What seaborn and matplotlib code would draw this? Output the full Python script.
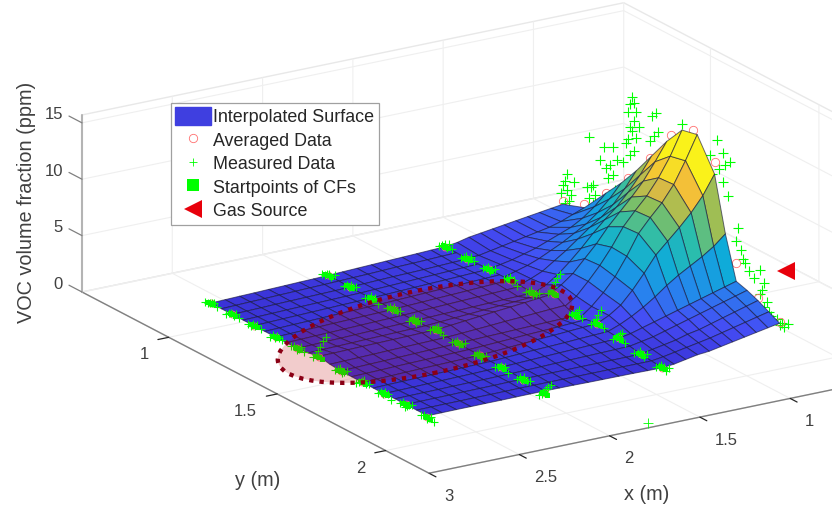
import numpy as np
import matplotlib
matplotlib.use("Agg")
import matplotlib.pyplot as plt
import seaborn as sns
from matplotlib.lines import Line2D
from matplotlib.patches import Ellipse, Patch
from matplotlib.transforms import IdentityTransform
from mpl_toolkits.mplot3d import proj3d

# surface, flat part between the three front CF lines
x_flat = [2.6, 2.52, 2.44, 2.36, 2.28, 2.19, 2.11, 2.03, 1.95, 1.87, 1.79, 1.71, 1.63, 1.54, 1.46, 1.38, 1.3]
y_flat = [.86, .91, .96, 1.01, 1.06, 1.11, 1.16, 1.21, 1.26, 1.31, 1.36, 1.41, 1.46, 1.51, 1.56, 1.61, 1.66, 1.71, 1.76, 1.81, 1.86]
z_flat = [
    [.30, .30, .30, .30, .30, .30, .30, .30, .30, .40, .60, .40, .30, .30, .30, .30, .30, .35, .35, .35, .35],
    [.34, .34, .33, .33, .34, .34, .34, .34, .34, .43, .62, .43, .34, .33, .33, .33, .33, .36, .36, .36, .36],
    [.38, .38, .36, .36, .38, .38, .38, .38, .38, .46, .65, .46, .38, .36, .36, .35, .35, .37, .37, .37, .37],
    [.41, .41, .40, .40, .41, .41, .41, .41, .41, .49, .68, .49, .41, .40, .40, .38, .38, .38, .38, .37, .37],
    [.45, .45, .43, .43, .45, .45, .45, .45, .45, .53, .70, .53, .45, .43, .43, .40, .40, .40, .40, .38, .38],
    [.49, .49, .46, .46, .49, .49, .49, .49, .49, .56, .73, .56, .49, .46, .46, .43, .43, .41, .41, .38, .38],
    [.53, .53, .49, .49, .53, .53, .53, .53, .53, .59, .75, .59, .53, .49, .49, .45, .45, .42, .42, .39, .39],
    [.56, .56, .52, .52, .56, .56, .56, .56, .56, .62, .78, .62, .56, .52, .52, .48, .48, .44, .44, .40, .40],
    [.60, .60, .55, .55, .60, .60, .60, .60, .60, .65, .80, .65, .60, .55, .55, .50, .50, .45, .45, .40, .40],
    [.65, .64, .60, .60, .65, .65, .66, .65, .64, .73, .93, .73, .64, .61, .63, .57, .55, .48, .46, .40, .39],
    [.70, .68, .65, .65, .70, .70, .71, .70, .68, .81, 1.06, .81, .68, .67, .71, .63, .60, .51, .47, .40, .38],
    [.75, .73, .69, .70, .75, .75, .77, .75, .71, .89, 1.19, .89, .71, .73, .79, .70, .65, .54, .47, .40, .36],
    [.80, .78, .72, .75, .80, .80, .82, .80, .75, .98, 1.32, .98, .75, .80, .88, .75, .70, .58, .48, .40, .35],
    [.85, .82, .76, .80, .85, .85, .88, .85, .79, 1.06, 1.45, 1.06, .79, .86, .96, .81, .75, .61, .48, .40, .34],
    [.90, .86, .81, .85, .90, .90, .94, .90, .83, 1.14, 1.58, 1.14, .83, .92, 1.04, .88, .80, .64, .49, .40, .33],
    [.95, .91, .86, .90, .95, .95, 1.0, .95, .86, 1.22, 1.72, 1.22, .86, .99, 1.12, .94, .85, .67, .49, .40, .31],
    [1.0, .95, .90, .95, 1.0, 1.0, 1.05, 1.0, .90, 1.30, 1.85, 1.30, .90, 1.05, 1.20, 1.0, .90, .70, .50, .40, .30],
]

# coarser mesh around the peak, one list per y station from x=.65 to x=1.3
x_peak = [.65, .715, .78, .845, .91, .975, 1.04, 1.105, 1.17, 1.235, 1.3]
y_peak = [.86, .96, 1.06, 1.13, 1.2, 1.27, 1.34, 1.41, 1.48, 1.56, 1.61, 1.66, 1.71, 1.76, 1.81, 1.86]
z_peak = [
    [2.6, 2.45, 2.3, 2.15, 2.0, 1.85, 1.7, 1.55, 1.4, 1.15, 1.0],
    [3.3, 2.9, 2.5, 2.2, 2.0, 1.8, 1.6, 1.4, 1.2, 1.0, .95],
    [5.6, 4.6, 3.8, 3.2, 2.8, 2.4, 2.0, 1.7, 1.4, 1.2, 1.0],
    [7.2, 6.0, 5.0, 4.2, 3.6, 3.0, 2.5, 2.0, 1.6, 1.3, 1.0],
    [9.0, 7.6, 6.4, 5.5, 4.8, 4.0, 3.2, 2.5, 1.8, 1.35, .98],
    [11.0, 9.5, 8.2, 7.1, 6.2, 5.2, 4.1, 3.1, 2.2, 1.5, 1.0],
    [13.0, 11.4, 9.9, 8.7, 7.6, 6.5, 5.2, 4.1, 3.0, 2.2, 1.6],
    [14.7, 12.6, 10.9, 9.5, 8.4, 7.2, 5.6, 4.2, 3.0, 1.9, 1.2],
    [15.0, 12.9, 11.0, 9.6, 8.5, 7.3, 5.5, 3.9, 2.7, 1.7, .9],
    [12.3, 10.6, 9.3, 8.2, 7.2, 6.2, 4.8, 3.5, 2.4, 1.7, 1.2],
    [7.5, 6.6, 5.9, 5.3, 4.7, 4.0, 3.2, 2.5, 1.9, 1.4, 1.0],
    [3.8, 3.5, 3.2, 2.9, 2.6, 2.3, 2.0, 1.7, 1.4, 1.1, .9],
    [3.5, 3.2, 2.9, 2.6, 2.3, 2.0, 1.7, 1.4, 1.1, .9, .7],
    [3.1, 2.8, 2.5, 2.2, 1.9, 1.6, 1.4, 1.1, .9, .7, .5],
    [2.6, 2.35, 2.1, 1.85, 1.6, 1.35, 1.15, .95, .75, .55, .4],
    [2.1, 1.9, 1.7, 1.5, 1.3, 1.1, .9, .8, .6, .4, .3],
]

# measured samples on the three front lines, six z values per y station
line_x = [2.6, 1.95, 1.3]
stations_y = [.86, .96, 1.06, 1.16, 1.26, 1.36, 1.46, 1.56, 1.66, 1.76, 1.86]
sample_dy = [-.028, -.014, -.004, .006, .016, .03]
samples_z = [
    [[.1, .2, .3, .4, .5, .3], [.1, .3, .4, .2, .5, .3], [.2, .1, .4, .3, .5, .3], [.0, .3, .2, .5, .4, .3],
     [.2, .4, .1, .3, .6, .3], [.3, .6, 1.0, 1.5, 2.1, 2.6], [.1, .3, .5, .2, .4, .6], [.0, .2, .4, .6, .3, .5],
     [.1, .3, .2, .5, .4, .0], [.2, .4, .1, .3, .5, .6], [.1, .3, .0, .2, .4, .1]],
    [[.4, .5, .7, .8, .6, .9], [.4, .6, .5, .8, .7, .9], [.3, .5, .7, .6, .8, .4], [.4, .7, .5, .9, .6, .8],
     [.3, .6, .8, .5, .7, .9], [.5, .7, .9, 1.1, .8, .6], [.4, .6, .8, .5, .7, .9], [.3, .5, .7, .4, .6, .8],
     [.2, .4, .6, .5, .7, .3], [.2, .5, .3, .7, .4, .6], [-.2, .0, .3, .6, .9, 1.2]],
    [[.8, 1.0, 1.2, .9, 1.4, 1.1], [.7, .9, 1.1, .8, 1.2, 1.0], [.8, 1.0, 1.2, .9, 1.1, 1.3], [.9, 1.1, 1.3, 1.0, 1.2, .8],
     [.7, .9, 1.1, .8, 1.0, 1.2], [1.6, 1.9, 2.4, 2.9, 3.4, 3.9], [.7, .9, 1.1, 1.3, 1.6, 1.0], [.9, 1.2, 1.6, 2.0, 2.6, 1.1],
     [.6, .9, 1.1, 1.3, 1.5, .8], [.3, .5, .7, .6, .4, .8], [.1, .3, .5, .4, .2, .6]],
]
start_z = [
    [.3, .3, .3, .3, .3, .5, .3, .3, .3, .35, .2],
    [.6, .6, .55, .6, .6, .8, .6, .55, .5, .4, .2],
    [1.0, .9, 1.0, 1.05, .9, 1.85, .9, 1.2, .9, .5, .3],
]
start_dy = [-.012, 0, .012]

# last line, sits behind the peak
back_x = .65
back_y = [.87, .89, .85, .9, .88, .86, .87, .91, .88, 1.0, .98, 1.01, .97, .99, 1.0, 1.03, .98, 1.1, 1.07, 1.09, 1.06, 1.08, 1.11, 1.05,
          1.09, 1.14, 1.17, 1.15, 1.19, 1.16, 1.2, 1.18, 1.17, 1.21, 1.19, 1.16, 1.2, 1.17, 1.19, 1.18, 1.27, 1.29, 1.26, 1.28, 1.3, 1.41, 1.57,
          1.61, 1.63, 1.6, 1.55, 1.58, 1.54, 1.62, 1.6, 1.67, 1.66, 1.68, 1.7, 1.72, 1.69, 1.74, 1.77, 1.79, 1.78, 1.8, 1.79, 1.77,
          1.81, 1.82, 1.83, 1.85, 1.87, 1.88, 1.9, 1.86]
back_z = [2.8, 3.2, 3.5, 3.8, 4.1, 4.3, 4.8, 5.1, 5.5, 4.0, 4.4, 4.9, 5.2, 5.4, 5.7, 8.2, 9.8, 6.3, 7.0, 7.5, 7.8, 8.3, 9.0, 9.6,
          10.0, 9.2, 10.1, 10.9, 10.6, 11.4, 11.9, 12.3, 12.6, 13.0, 13.3, 13.8, 14.2, 14.6, 14.9, 15.3, 14.5, 15.0, 12.2, 12.9, 13.4, 15.2, 15.4,
          13.6, 14.1, 14.6, 12.2, 13.0, 13.8, 11.0, 12.0, 8.6, 7.4, 6.8, 5.8, 5.3, 6.1, 4.9, 5.9, 5.0, 4.2, 3.4, 2.8, 3.8,
          2.6, 2.3, 2.1, 2.4, 2.2, 2.0, 2.4, 1.9]
lone_x, lone_y, lone_z = [1.75], [2.17], [0.0]

# averaged data, one per station
avg_z_back = [2.9, 3.6, 5.6, 7.9, 10.7, 13.8, 15.2, 13.4, 5.4, 3.3, 2.2]
source_x, source_y, source_z = [.05], [1.39], [0.0]

x_ticks = [0, .5, 1, 1.5, 2, 2.5, 3]
y_ticks = [1, 1.5, 2]
z_ticks = [0, 5, 10, 15]
x_labels = ["1", "1.5", "2", "2.5", "3"]
y_labels = ["1", "1.5", "2"]
z_labels = ["0", "5", "10", "15"]

W, H = 832, 507
TEXT = "#404040"
GREEN = "#00ff00"
sns.set_style("white")
plt.rcParams["font.family"] = ["Liberation Sans", "DejaVu Sans"]
parula = sns.blend_palette([(.22, .18, .82), (.27, .30, .96), (.15, .52, .93), (.06, .67, .85), (.16, .74, .68),
                            (.55, .75, .35), (.95, .72, .24), (.98, .95, .10)], n_colors=128, as_cmap=True)

fig = plt.figure(figsize=(W / 100, H / 100), dpi=100)
ax = fig.add_axes([0, 0, 1, W / H], projection="3d", proj_type="ortho", computed_zorder=False)
ax.set_xlim(0, 3)
ax.set_ylim(.6, 2.2)
ax.set_zlim(0, 15.7)
ax.view_init(elev=19.2, azim=57.8)
ax.set_box_aspect((642, 653, 188))


def to_px(x, y, z):
    xp, yp, _ = proj3d.proj_transform(x, y, z, ax.get_proj())
    return ax.transData.transform((xp, yp))


# scale and shift the axes so the floor corners land where they are in the picture
ax.apply_aspect()
p0, p1 = to_px(3, .6, 0), to_px(3, 2.2, 0)
side = W * (429 - 82) / (p1[0] - p0[0])
ax.set_position([0, 0, side / W, side / H])
ax.apply_aspect()
p0 = to_px(3, .6, 0)
ax.set_position([(82 - p0[0]) / W, (H - 292 - p0[1]) / H, side / W, side / H])
ax.apply_aspect()

for axis in (ax.xaxis, ax.yaxis, ax.zaxis):
    axis.set_pane_color((1, 1, 1, 1))
    axis.pane.set_edgecolor("#e8e8e8")
    axis.line.set_color("#808080")
    axis.line.set_linewidth(1.0)
    axis._axinfo["grid"].update(color="#efefef", linewidth=.8)
    axis._axinfo["tick"].update(inward_factor=.25, outward_factor=0, color="#808080", linewidth={True: .9, False: .9})
ax.zaxis.line.set_color("#b4b4b4")
ax.zaxis.line.set_linewidth(1.5)
ax.zaxis._axinfo["tick"].update(inward_factor=0, outward_factor=0)
ax.set_xticks(x_ticks)
ax.set_yticks(y_ticks)
ax.set_zticks(z_ticks)
ax.set_xticklabels([])
ax.set_yticklabels([])
ax.set_zticklabels([])

# z ticks point along y in the original
for val in z_ticks:
    ax.plot([3, 3], [.6, .54], [val, val], color="#808080", lw=.9, zorder=1)

# behind the surface
ax.plot([back_x] * len(back_y), back_y, back_z, ls="none", marker="+", ms=7, mew=.8, color=GREEN, zorder=1)
ax.plot([back_x] * len(stations_y), stations_y, avg_z_back, ls="none", marker="o", ms=6, mew=.6, mfc="none",
        color="#ff7070", zorder=1)

mesh = dict(cmap=parula, vmin=0, vmax=12.5, rstride=1, cstride=1, edgecolor=(.08, .08, .22, .62), linewidth=.7, shade=False)
gx, gy = np.meshgrid(x_peak, y_peak)
ax.plot_surface(gx, gy, np.array(z_peak), zorder=3, **mesh)
gx, gy = np.meshgrid(x_flat, y_flat)
ax.plot_surface(gx, gy, np.array(z_flat).T, zorder=4, **mesh)

# front lines on top of the surface
for lx, zs, zstart in zip(line_x, samples_z, start_z):
    for y0, group, z0 in zip(stations_y, zs, zstart):
        ys = [y0 + d for d in sample_dy]
        ax.plot([lx], [y0], [z0], ls="none", marker="o", ms=5, mew=.6, mfc="none", color="#ff7070", zorder=5)
        ax.plot([lx] * len(ys), ys, group, ls="none", marker="+", ms=6, mew=.8, color=GREEN, zorder=5)
        for d in start_dy:
            ax.plot([lx], [y0 + d], [z0], ls="none", marker="s", ms=3.6, mew=0, color=GREEN, zorder=6)
ax.plot(lone_x, lone_y, lone_z, ls="none", marker="+", ms=7, mew=.6, color=GREEN, zorder=5)
ax.plot(source_x, source_y, source_z, ls="none", marker="<", ms=13, mew=0, color="#e8000b", zorder=6)

# tick labels and axis labels, offsets in pixels from each tick
def label_at(px, py, text, **kw):
    fig.text(px / W, 1 - py / H, text, color=TEXT, **kw)


for val, text in zip([1, 1.5, 2, 2.5, 3], x_labels):
    p = to_px(val, 2.2, 0)
    label_at(p[0] + 15, H - p[1] + 23, text, fontsize=12, ha="left", va="center")
for val, text in zip(y_ticks, y_labels):
    p = to_px(3, val, 0)
    label_at(p[0] - 20, H - p[1] + 17.5, text, fontsize=12, ha="right", va="center")
for val, text in zip(z_ticks, z_labels):
    p = to_px(3, .6, val)
    label_at(p[0] - 19, H - p[1] - 8, text, fontsize=12, ha="right", va="center")
label_at(647, 495, "x (m)", fontsize=14.3, ha="center", va="center")
label_at(258, 480, "y (m)", fontsize=14.3, ha="center", va="center")
label_at(27, 202, "VOC volume fraction (ppm)", fontsize=14.3, ha="center", va="center", rotation=90)

# red highlighted region
fig.add_artist(Ellipse((425, H - 332), 300, 84, angle=11.5, transform=IdentityTransform(), facecolor=(.75, 0, 0, .2),
                       edgecolor="#8b0015", linewidth=3.1, linestyle=(0, (1, 1.4)), zorder=5))

handles = [
    Patch(facecolor="#3f3fe0", edgecolor="#3f3fe0"),
    Line2D([], [], ls="none", marker="o", ms=6, mew=.6, mfc="none", color="#ff7070"),
    Line2D([], [], ls="none", marker="+", ms=6, mew=.6, color=GREEN),
    Line2D([], [], ls="none", marker="s", ms=8, mew=0, color=GREEN),
    Line2D([], [], ls="none", marker="<", ms=13, mew=0, color="#e8000b"),
]
names = ["Interpolated Surface", "Averaged Data", "Measured Data", "Startpoints of CFs", "Gas Source"]
leg = fig.legend(handles, names, loc="upper left", bbox_to_anchor=(171 / W, 1 - 103 / H), borderaxespad=0,
                 fontsize=12.9, frameon=True, fancybox=False, framealpha=1, edgecolor="#a0a0a0", handlelength=2.0,
                 handleheight=1.1, handletextpad=.1, borderpad=.25, labelspacing=.27)
leg.get_frame().set_linewidth(.9)
leg.set_zorder(6)

fig.savefig("out.png", dpi=100)
